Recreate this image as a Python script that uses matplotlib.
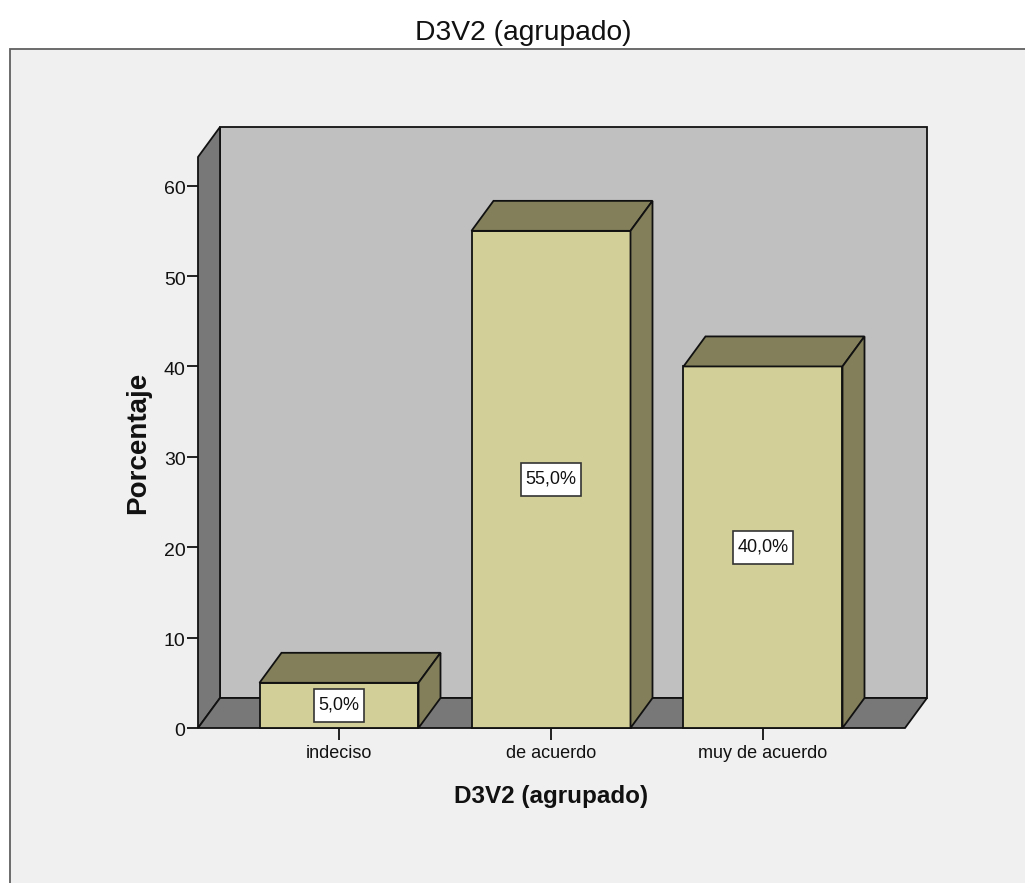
import matplotlib
matplotlib.use("Agg")
import matplotlib.pyplot as plt
from matplotlib.patches import Polygon, Rectangle
from matplotlib.transforms import ScaledTranslation

categories = ["indeciso", "de acuerdo", "muy de acuerdo"]
values = [5.0, 55.0, 40.0]
value_labels = ["5,0%", "55,0%", "40,0%"]
y_ticks = [0, 10, 20, 30, 40, 50, 60]

W, H = 1025, 883
plt.rcParams["font.family"] = ["Liberation Sans", "DejaVu Sans"]

fig = plt.figure(figsize=(W / 100, H / 100), dpi=100, facecolor="white")

# outer chart panel, in pixels
bg = fig.add_axes([0, 0, 1, 1])
bg.set_xlim(0, W)
bg.set_ylim(H, 0)
bg.axis("off")
bg.add_patch(Rectangle((9.5, 49), 1030, 900, fc="#f0f0f0", ec="#606060", lw=1.3))
bg.text(523, 33, "D3V2 (agrupado)", ha="center", va="center", fontsize=20.3, color="#111111")

# plot axes: x in category units, y in percent
L, R, T, B = 198, 905, 157, 728
ax = fig.add_axes([L / W, 1 - B / H, (R - L) / W, (B - T) / H])
y_top = 63.17
ax.set_ylim(0, y_top)
px_x = 212  # pixels per category
px_y = (B - T) / y_top
ax.set_xlim((L - 339) / px_x, (R - 339) / px_x)
ax.patch.set_alpha(0)
for s in ax.spines.values():
    s.set_visible(False)

dx = 22 / px_x
dy = 30 / px_y
x0, x1 = ax.get_xlim()
edge = dict(ec="#111111", lw=1.3, clip_on=False, joinstyle="miter")

# back wall, side wall, floor
ax.add_patch(Polygon([(x0 + dx, dy), (x1 + dx, dy), (x1 + dx, y_top + dy), (x0 + dx, y_top + dy)], fc="#c0c0c0", **edge))
ax.add_patch(Polygon([(x0, 0), (x0 + dx, dy), (x0 + dx, y_top + dy), (x0, y_top)], fc="#787878", **edge))
ax.add_patch(Polygon([(x0, 0), (x1, 0), (x1 + dx, dy), (x0 + dx, dy)], fc="#787878", **edge))

# bars
bw = 159 / px_x
for i, v in enumerate(values):
    a, b = i - bw / 2, i + bw / 2
    ax.add_patch(Rectangle((a, 0), bw, v, fc="#d3cf98", **edge))
    ax.add_patch(Polygon([(a, v), (b, v), (b + dx, v + dy), (a + dx, v + dy)], fc="#827f5a", **edge))
    ax.add_patch(Polygon([(b, 0), (b + dx, dy), (b + dx, v + dy), (b, v)], fc="#827f5a", **edge))
    # label box sized from the text length
    box_w = (10 * len(value_labels[i]) + 10) / px_x
    box_h = 33 / px_y
    ax.add_patch(Rectangle((i - box_w / 2, v / 2 - box_h / 2), box_w, box_h, fc="white", ec="#333333", lw=1.2, zorder=4))
    ax.text(i, v / 2, value_labels[i], ha="center", va="center", fontsize=13, color="#111111", zorder=5)

ax.set_xticks(range(len(categories)), categories, fontsize=13, color="#111111")
ax.set_yticks(y_ticks)
ax.tick_params(axis="y", labelsize=14, length=8, width=1.3, pad=1, direction="out", color="#111111", labelcolor="#111111")
ax.tick_params(axis="x", length=8.5, width=1.3, pad=3.5, color="#111111")
ax.set_xlabel("D3V2 (agrupado)", fontsize=17.5, fontweight="bold", labelpad=16.5, color="#111111")
ax.set_ylabel("Porcentaje", fontsize=20, fontweight="bold", color="#111111")
ax.yaxis.set_label_coords((151 - L) / (R - L), (B - 442.5) / (B - T))

# y tick labels sit slightly below their ticks in the original
shift = ScaledTranslation(0, -2 / 100, fig.dpi_scale_trans)
for lab in ax.get_yticklabels():
    lab.set_transform(lab.get_transform() + shift)

fig.savefig("out.png", dpi=100)
